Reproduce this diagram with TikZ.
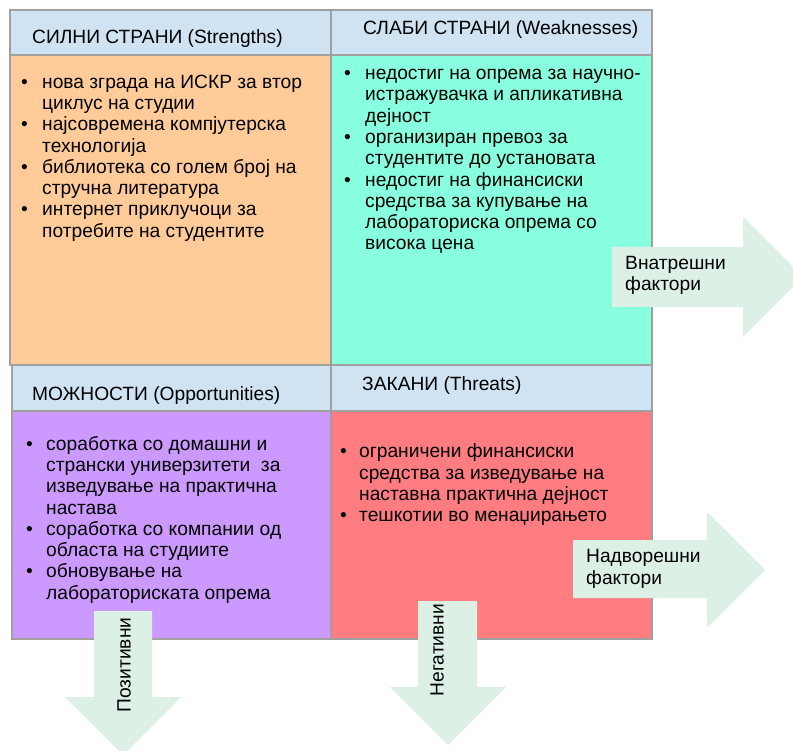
\documentclass[tikz,border=0pt]{standalone}
\usepackage{fontspec}
\setmainfont{Liberation Sans}
\definecolor{hdr}{RGB}{207,227,242}
\definecolor{cS}{RGB}{255,204,153}
\definecolor{cW}{RGB}{136,255,222}
\definecolor{cO}{RGB}{204,153,255}
\definecolor{cT}{RGB}{255,124,128}
\definecolor{arr}{RGB}{220,240,230}
\definecolor{bord}{RGB}{160,160,160}
\newcommand\mytxt{\fontsize{19.2}{21.3}\selectfont}
\newcommand\bul[1]{\makebox[#1][l]{\textbullet}}
\begin{document}
\begin{tikzpicture}[x=1pt,y=-1pt,
  cellbox/.style={draw=bord,line width=1.2pt},
  hdrtext/.style={anchor=base west,inner sep=0pt,font=\mytxt},
  listtext/.style={anchor=north west,inner sep=0pt,font=\mytxt},
  arrowshape/.style={fill=arr,draw=none},
  vtext/.style={inner sep=0pt,font=\mytxt,rotate=90}]
\useasboundingbox (0,0) rectangle (793,751);
\clip (0,0) rectangle (793,751);
% cells
\draw[cellbox,fill=hdr] (10,10) rectangle (331,55);
\draw[cellbox,fill=hdr] (331,10) rectangle (652,55);
\draw[cellbox,fill=cS] (10,55) rectangle (331,365);
\draw[cellbox,fill=cW] (331,55) rectangle (652,365);
\draw[cellbox,fill=hdr] (12,365) rectangle (331,411);
\draw[cellbox,fill=hdr] (331,365) rectangle (652,411);
\draw[cellbox,fill=cO] (12,411) rectangle (331,639);
\draw[cellbox,fill=cT] (331,411) rectangle (652,639);
% headers
\node[hdrtext] (hS) at (32,44) {СИЛНИ СТРАНИ (Strengths)};
\node[hdrtext] (hW) at (363,34.5) {СЛАБИ СТРАНИ (Weaknesses)};
\node[hdrtext] (hO) at (32,400) {МОЖНОСТИ (Opportunities)};
\node[hdrtext] (hT) at (362,391) {ЗАКАНИ (Threats)};
% lists
\node[listtext] (lS) at (21,73) {\begin{tabular}{@{}l@{}l@{}}
\bul{21pt} & нова зграда на ИСКР за втор\\
 & циклус на студии\\
\bul{21pt} & најсовремена компјутерска\\
 & технологија\\
\bul{21pt} & библиотека со голем број на\\
 & стручна литература\\
\bul{21pt} & интернет приклучоци за\\
 & потребите на студентите
\end{tabular}};
\node[listtext] (lW) at (344,64.4) {\begin{tabular}{@{}l@{}l@{}}
\bul{21pt} & недостиг на опрема за научно-\\
 & истражувачка и апликативна\\
 & дејност\\
\bul{21pt} & организиран превоз за\\
 & студентите до установата\\
\bul{21pt} & недостиг на финансиски\\
 & средства за купување на\\
 & лабораториска опрема со\\
 & висока цена
\end{tabular}};
\node[listtext] (lO) at (26,435) {\begin{tabular}{@{}l@{}l@{}}
\bul{20pt} & соработка со домашни и\\
 & странски универзитети \ за\\
 & изведување на практична\\
 & настава\\
\bul{20pt} & соработка со компании од\\
 & областа на студиите\\
\bul{20pt} & обновување на\\
 & лабораториската опрема
\end{tabular}};
\node[listtext] (lT) at (340,442.8) {\begin{tabular}{@{}l@{}l@{}}
\bul{19pt} & ограничени финансиски\\
 & средства за изведување на\\
 & наставна практична дејност\\
\bul{19pt} & тешкотии во менаџирањето
\end{tabular}};
% arrows
\fill[arrowshape] (612,247) -- (743,247) -- (743,217) -- (803,277) -- (743,337) -- (743,307) -- (612,307) -- cycle;
\fill[arrowshape] (573,540) -- (707,540) -- (707,512) -- (765,570) -- (707,628) -- (707,598) -- (573,598) -- cycle;
\fill[arrowshape] (418,601) -- (477,601) -- (477,687) -- (506,687) -- (448,745) -- (390,687) -- (418,687) -- cycle;
\fill[arrowshape] (94,611) -- (152,611) -- (152,697) -- (181,697) -- (123,755) -- (65,697) -- (94,697) -- cycle;
% arrow labels
\node[listtext] (aIn) at (625,254) {\begin{tabular}{@{}l@{}}Внатрешни\\фактори\end{tabular}};
\node[listtext] (aEx) at (586,547.8) {\begin{tabular}{@{}l@{}}Надворешни\\фактори\end{tabular}};
\node[vtext] (aPos) at (124,665) {Позитивни};
\node[vtext] (aNeg) at (437,650) {Негативни};
\end{tikzpicture}
\end{document}
